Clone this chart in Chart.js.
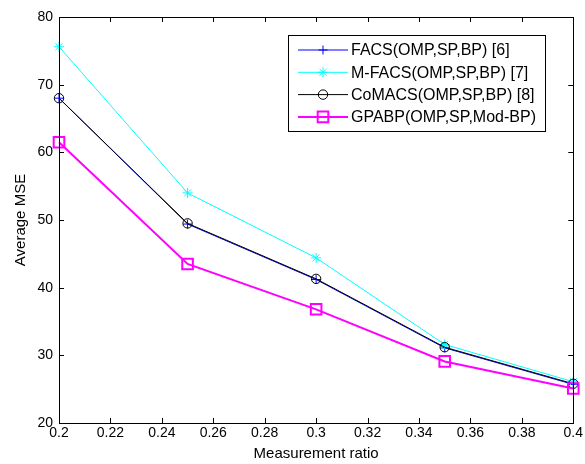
<!DOCTYPE html>
<html>
<head>
<meta charset="utf-8">
<script src="https://cdn.jsdelivr.net/npm/chart.js@4"></script>
<style>
  html, body { margin: 0; padding: 0; background: #fff; }
  #wrap { width: 585px; height: 464px; }
</style>
</head>
<body>
<div id="wrap"><canvas id="myChart" width="585" height="464"></canvas></div>
<script>
// measurement ratios (x) and average MSE per method
var ratios = [0.2, 0.25, 0.3, 0.35, 0.4];
var facs   = [68.0, 49.4, 41.2, 31.1, 25.7];
var mfacs  = [75.6, 54.0, 44.4, 31.6, 26.1];
var comacs = [68.0, 49.5, 41.3, 31.2, 25.8];
var gpabp  = [61.5, 43.5, 36.8, 29.1, 25.1];

var xTicks = [0.2, 0.22, 0.24, 0.26, 0.28, 0.3, 0.32, 0.34, 0.36, 0.38, 0.4];
var yTicks = [20, 30, 40, 50, 60, 70, 80];

var FONT = '"Liberation Sans", Arial, sans-serif';

function pts(vals) {
    return vals.map(function (v, i) { return { x: ratios[i], y: v }; });
}

var series = [
    { label: 'FACS(OMP,SP,BP) [6]',      data: facs,   color: '#0000ff', style: 'cross',  r: 4.5, w: 1 },
    { label: 'M-FACS(OMP,SP,BP) [7]',    data: mfacs,  color: '#00ffff', style: 'star',   r: 5,   w: 1 },
    { label: 'CoMACS(OMP,SP,BP) [8]',    data: comacs, color: '#000000', style: 'circle', r: 4.7, w: 1 },
    { label: 'GPABP(OMP,SP,Mod-BP)',     data: gpabp,  color: '#ff00ff', style: 'rect',   r: 7.5, w: 2 }
];

// matlab-like box with inward ticks on all four sides
var boxPlugin = {
    id: 'box',
    afterDraw: function (chart) {
        var ctx = chart.ctx, a = chart.chartArea;
        var xs = chart.scales.x, ys = chart.scales.y;
        ctx.save();
        ctx.strokeStyle = '#000';
        ctx.lineWidth = 1;
        ctx.strokeRect(Math.round(a.left) + 0.5, Math.round(a.top) + 0.5,
                       Math.round(a.right - a.left), Math.round(a.bottom - a.top));
        ctx.beginPath();
        xTicks.forEach(function (v) {
            var px = Math.round(xs.getPixelForValue(v)) + 0.5;
            ctx.moveTo(px, a.bottom); ctx.lineTo(px, a.bottom - 5);
            ctx.moveTo(px, a.top); ctx.lineTo(px, a.top + 5);
        });
        yTicks.forEach(function (v) {
            var py = Math.round(ys.getPixelForValue(v)) + 0.5;
            ctx.moveTo(a.left, py); ctx.lineTo(a.left + 5, py);
            ctx.moveTo(a.right, py); ctx.lineTo(a.right - 5, py);
        });
        ctx.stroke();
        ctx.restore();
    }
};

// legend box in the upper right of the axes
var legendPlugin = {
    id: 'boxLegend',
    afterDraw: function (chart) {
        var ctx = chart.ctx, a = chart.chartArea;
        var lx = a.left + 229, ly = a.top + 18, lw = 257, lh = 96;
        ctx.save();
        ctx.fillStyle = '#fff';
        ctx.fillRect(lx, ly, lw, lh);
        ctx.strokeStyle = '#000';
        ctx.lineWidth = 1;
        ctx.strokeRect(Math.round(lx) + 0.5, Math.round(ly) + 0.5, lw, lh);
        ctx.font = '16px ' + FONT;
        ctx.textBaseline = 'middle';
        ctx.textAlign = 'left';
        series.forEach(function (s, i) {
            var y = ly + 15 + i * 22.3;
            ctx.strokeStyle = s.color;
            ctx.lineWidth = s.w;
            ctx.beginPath();
            ctx.moveTo(lx + 10, y); ctx.lineTo(lx + 60, y);
            ctx.stroke();
            ctx.fillStyle = 'rgba(0,0,0,0)';
            Chart.helpers.drawPoint(ctx, { pointStyle: s.style, radius: s.r, rotation: 0, borderWidth: s.w }, lx + 35, y);
            ctx.fillStyle = '#000';
            ctx.fillText(s.label, lx + 63, y + 1);
        });
        ctx.restore();
    }
};

var ctx = document.getElementById('myChart').getContext('2d');

var myChart = new Chart(ctx, {
    type: 'line',
    data: {
        datasets: series.map(function (s, i) {
            return {
                label: s.label,
                data: pts(s.data),
                borderColor: s.color,
                borderWidth: s.w,
                pointStyle: s.style,
                pointRadius: s.r,
                pointBorderColor: s.color,
                pointBorderWidth: s.w,
                pointBackgroundColor: 'rgba(0,0,0,0)',
                tension: 0,
                clip: false,
                order: series.length - i
            };
        })
    },
    options: {
        responsive: false,
        animation: false,
        layout: { padding: { top: 17, right: 11, left: 0, bottom: 0 } },
        plugins: {
            legend: { display: false },
            tooltip: { enabled: false }
        },
        scales: {
            x: {
                type: 'linear',
                min: 0.2,
                max: 0.4,
                afterBuildTicks: function (s) { s.ticks = xTicks.map(function (v) { return { value: v }; }); },
                afterFit: function (s) { s.height = 41; },
                grid: { display: false, drawTicks: false },
                border: { display: false },
                ticks: {
                    color: '#000',
                    padding: 2,
                    maxRotation: 0,
                    autoSkip: false,
                    font: { family: FONT, size: 14 },
                    callback: function (v) { return String(Math.round(v * 100) / 100); }
                },
                title: {
                    display: true,
                    text: 'Measurement ratio',
                    color: '#000',
                    font: { family: FONT, size: 15 },
                    padding: { top: 0, bottom: 1 }
                }
            },
            y: {
                min: 20,
                max: 80,
                afterBuildTicks: function (s) { s.ticks = yTicks.map(function (v) { return { value: v }; }); },
                afterFit: function (s) { s.width = 59; },
                grid: { display: false, drawTicks: false },
                border: { display: false },
                ticks: {
                    color: '#000',
                    padding: 6,
                    font: { family: FONT, size: 14 }
                },
                title: {
                    display: true,
                    text: 'Average MSE',
                    color: '#000',
                    font: { family: FONT, size: 15 },
                    padding: { top: 12, bottom: 0 }
                }
            }
        }
    },
    plugins: [boxPlugin, legendPlugin]
});
</script>
</body>
</html>
